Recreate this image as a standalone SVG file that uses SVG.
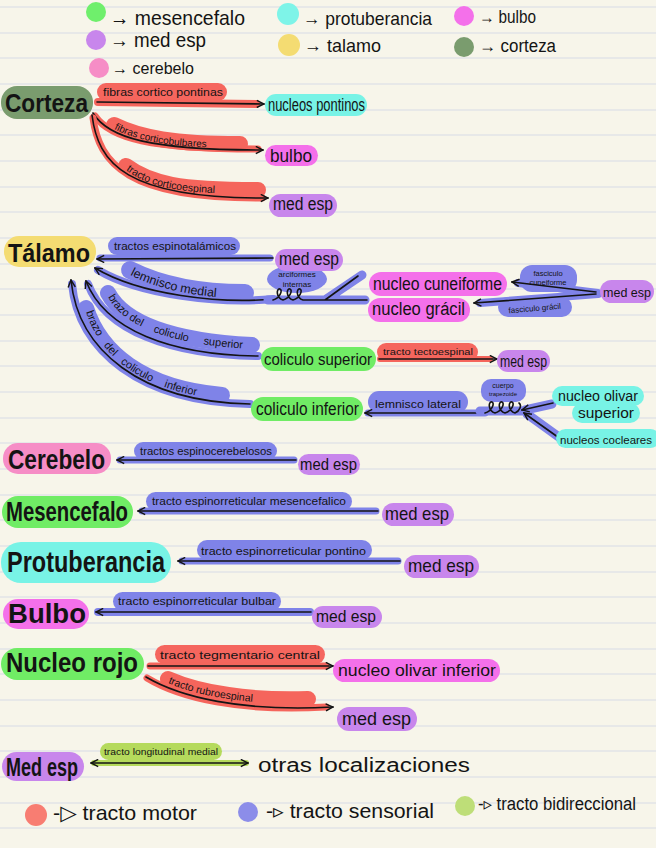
<svg xmlns="http://www.w3.org/2000/svg" width="656" height="848" viewBox="0 0 656 848">
<style>
.hand{font-family:"Liberation Sans","DejaVu Sans",sans-serif;fill:#141414}
.nt{font-weight:bold}
.lb{font-size:10px}
.bb{stroke:#7f83e8;fill:none;stroke-linecap:round;stroke-linejoin:round}
.rb{stroke:#f5655c;fill:none;stroke-linecap:round;stroke-linejoin:round}
.gb{stroke:#b5da5c;fill:none;stroke-linecap:round}
.ar{stroke:#141414;stroke-width:1.6;fill:none;stroke-linecap:round}
.bp{fill:#7f83e8}
.rp{fill:#f5665e}
.gp{fill:#b5da5c}
.cor{fill:#7a9c6e}.tal{fill:#f4dc72}.cer{fill:#f68dc6}.mes{fill:#70ec65}
.pro{fill:#78f3e6}.bul{fill:#f470ea}.med{fill:#c886ec}
</style>
<defs>
<marker id="ah" viewBox="0 0 10 10" refX="9" refY="5" markerWidth="9" markerHeight="9" markerUnits="userSpaceOnUse" orient="auto-start-reverse">
<path d="M1,1 L9,5 L1,9" fill="none" stroke="#141414" stroke-width="1.6"/>
</marker>
<path id="cbT" d="M114,129 C140,142 175,148 240,148"/>
<path id="csT" d="M126,170 C150,188 180,194 258,194"/>
<path id="lmT" d="M130,275 C160,290 200,298 245,298"/>
<path id="bsT" d="M108,297 C124,327 172,345 252,349"/>
<path id="biT" d="M86,312 C100,356 142,392 222,399"/>
<path id="rbT" d="M168,683 C200,697 250,705 308,703"/>
</defs>
<rect width="656" height="848" fill="#f7f5ea"/>
<path stroke="#e2e3e8" stroke-width="1.3" fill="none" d="M0,7H656M0,33H656M0,58H656M0,84H656M0,110H656M0,135H656M0,161H656M0,187H656M0,212H656M0,238H656M0,264H656M0,289H656M0,315H656M0,341H656M0,366H656M0,392H656M0,418H656M0,443H656M0,469H656M0,495H656M0,520H656M0,546H656M0,572H656M0,597H656M0,623H656M0,649H656M0,674H656M0,700H656M0,726H656M0,751H656M0,777H656M0,803H656M0,828H656"/>

<g id="legend">
<circle cx="96" cy="12" r="10" fill="#6fef6c"/>
<text class="hand" x="110" y="25" font-size="21" textLength="135" lengthAdjust="spacingAndGlyphs">→ mesencefalo</text>
<circle cx="96" cy="40" r="10" fill="#c886ec"/>
<text class="hand" x="110" y="47" font-size="20" textLength="96" lengthAdjust="spacingAndGlyphs">→ med esp</text>
<circle cx="99" cy="68" r="10" fill="#f68dc6"/>
<text class="hand" x="112" y="74" font-size="17" textLength="82" lengthAdjust="spacingAndGlyphs">→ cerebelo</text>
<circle cx="288" cy="14" r="11" fill="#7ef4e8"/>
<text class="hand" x="303" y="25" font-size="19" textLength="129" lengthAdjust="spacingAndGlyphs">→ protuberancia</text>
<circle cx="289" cy="45" r="11" fill="#f4dc72"/>
<text class="hand" x="304" y="52" font-size="19" textLength="77" lengthAdjust="spacingAndGlyphs">→ talamo</text>
<circle cx="464" cy="16" r="10" fill="#f470ea"/>
<text class="hand" x="479" y="23" font-size="18" textLength="57" lengthAdjust="spacingAndGlyphs">→ bulbo</text>
<circle cx="464" cy="47" r="10" fill="#7a9c6e"/>
<text class="hand" x="479" y="52" font-size="18" textLength="77" lengthAdjust="spacingAndGlyphs">→ corteza</text>
</g>

<g id="connectors">
<rect class="rp" x="97" y="83" width="130" height="18" rx="9"/>
<path class="rb" stroke-width="8" d="M98,102 L256,104"/>
<path class="ar" marker-end="url(#ah)" d="M97,102 L264,104"/>
<text class="hand lb" x="103" y="96" textLength="120" lengthAdjust="spacingAndGlyphs">fibras cortico pontinas</text>

<path class="rb" stroke-width="7" d="M95,116 C110,138 150,149 258,149"/>
<use href="#cbT" class="rb" stroke-width="16" transform="translate(0,-4)"/>
<path class="ar" marker-end="url(#ah)" d="M93,113 C108,138 150,150 263,150"/>
<text class="hand lb"><textPath href="#cbT">fibras corticobulbares</textPath></text>

<path class="rb" stroke-width="7" d="M93,118 C99,163 127,199 262,198"/>
<use href="#csT" class="rb" stroke-width="16" transform="translate(0,-4)"/>
<path class="ar" marker-end="url(#ah)" d="M92,115 C98,163 125,199 268,198"/>
<text class="hand" font-size="10.5"><textPath href="#csT">tracto corticoespinal</textPath></text>

<rect class="bp" x="108" y="237" width="132" height="18" rx="9"/>
<path class="bb" stroke-width="7" d="M100,258 L270,258"/>
<path class="ar" marker-end="url(#ah)" d="M273,258 L97,259"/>
<text class="hand lb" x="114" y="250" textLength="122" lengthAdjust="spacingAndGlyphs">tractos espinotalámicos</text>

<path class="bb" stroke-width="8" d="M273,299 C220,304 140,295 98,270"/>
<use href="#lmT" class="bb" stroke-width="18" transform="translate(0,-5)"/>
<path class="ar" marker-end="url(#ah)" d="M273,299 C220,304 140,295 95,268"/>
<text class="hand" font-size="12.5"><textPath href="#lmT">lemnisco medial</textPath></text>

<ellipse class="bp" cx="297" cy="279" rx="30" ry="14"/>
<text class="hand" x="297" y="277" font-size="8" text-anchor="middle">arciformes</text>
<text class="hand" x="297" y="287" font-size="8" text-anchor="middle">internas</text>
<path class="bb" stroke-width="9" d="M268,300 L365,300 M325,300 L362,275"/>
<path class="ar" d="M273,300 C280,298 283,290 280,289 C276,288 276,298 283,300 C290,298 293,290 290,289 C286,288 286,298 293,300 C300,298 303,290 300,289 C296,288 296,298 303,300 L367,300 M325,300 L358,276"/>

<path class="bb" stroke-width="8" d="M598,293 L518,283 M598,294 L480,303"/>
<rect class="bp" x="520" y="265" width="57" height="27" rx="12"/>
<rect class="bp" x="498" y="297" width="74" height="20" rx="10"/>
<path class="ar" marker-end="url(#ah)" d="M596,292 L512,282"/>
<path class="ar" marker-end="url(#ah)" d="M596,294 L474,303"/>
<text class="hand" x="548" y="276" font-size="7.5" text-anchor="middle">fasciculo</text>
<text class="hand" x="548" y="285" font-size="7.5" text-anchor="middle">cuneiforme</text>
<text class="hand" x="535" y="311" font-size="8" text-anchor="middle" transform="rotate(-5 535 311)">fasciculo grácil</text>

<path class="bb" stroke-width="8" d="M258,356 C170,355 105,330 88,284"/>
<use href="#bsT" class="bb" stroke-width="16" transform="translate(0,-4)"/>
<path class="ar" marker-end="url(#ah)" d="M258,356 C170,355 105,330 86,281"/>
<text class="hand" font-size="11"><textPath href="#bsT">brazo del</textPath></text>
<text class="hand" font-size="11"><textPath href="#bsT" startOffset="58">coliculo</textPath></text>
<text class="hand" font-size="11"><textPath href="#bsT" startOffset="110">superior</textPath></text>

<path class="bb" stroke-width="8" d="M250,404 C140,402 78,350 72,284"/>
<use href="#biT" class="bb" stroke-width="16" transform="translate(0,-4)"/>
<path class="ar" marker-end="url(#ah)" d="M250,404 C140,402 78,350 71,280"/>
<text class="hand" font-size="11"><textPath href="#biT">brazo</textPath></text>
<text class="hand" font-size="11"><textPath href="#biT" startOffset="38">del</textPath></text>
<text class="hand" font-size="11"><textPath href="#biT" startOffset="62">coliculo</textPath></text>
<text class="hand" font-size="11"><textPath href="#biT" startOffset="112">inferior</textPath></text>

<rect class="rp" x="377" y="343" width="101" height="18" rx="9"/>
<path class="rb" stroke-width="6" d="M380,359 L490,359"/>
<path class="ar" marker-end="url(#ah)" d="M379,359 L497,359"/>
<text class="hand" x="383" y="355" font-size="9.5" textLength="90" lengthAdjust="spacingAndGlyphs">tracto tectoespinal</text>

<rect class="bp" x="368" y="391" width="100" height="22" rx="11"/>
<path class="bb" stroke-width="7" d="M368,413 L485,413"/>
<path class="ar" marker-end="url(#ah)" d="M485,413 L365,413"/>
<text class="hand" x="375" y="408" font-size="10" textLength="86" lengthAdjust="spacingAndGlyphs">lemnisco lateral</text>
<rect class="bp" x="481" y="379" width="45" height="23" rx="10"/>
<text class="hand" x="503" y="388" font-size="7" text-anchor="middle">cuerpo</text>
<text class="hand" x="503" y="396" font-size="6" text-anchor="middle">trapezoide</text>
<path class="bb" stroke-width="9" d="M480,411 L525,411 M552,404 L525,410 M563,440 L527,414"/>
<path class="ar" d="M485,413 C492,411 495,403 492,402 C488,401 488,411 495,413 C502,411 505,403 502,402 C498,401 498,411 505,413 C512,411 515,403 512,402 C508,401 508,411 515,413 C520,411 522,405 519,403"/>
<path class="ar" marker-end="url(#ah)" d="M553,403 L522,410"/>
<path class="ar" marker-end="url(#ah)" d="M562,440 L524,413"/>

<rect class="bp" x="134" y="442" width="143" height="18" rx="9"/>
<path class="bb" stroke-width="7" d="M120,460 L294,460"/>
<path class="ar" marker-end="url(#ah)" d="M296,460 L117,460"/>
<text class="hand lb" x="140" y="455" textLength="132" lengthAdjust="spacingAndGlyphs">tractos espinocerebelosos</text>

<rect class="bp" x="146" y="492" width="206" height="19" rx="9.5"/>
<path class="bb" stroke-width="7" d="M142,511 L376,511"/>
<path class="ar" marker-end="url(#ah)" d="M378,511 L138,511"/>
<text class="hand lb" x="152" y="505" textLength="194" lengthAdjust="spacingAndGlyphs">tracto espinorreticular mesencefalico</text>

<rect class="bp" x="197" y="540" width="175" height="20" rx="10"/>
<path class="bb" stroke-width="7" d="M182,561 L398,561"/>
<path class="ar" marker-end="url(#ah)" d="M400,561 L178,561"/>
<text class="hand lb" x="201" y="555" textLength="165" lengthAdjust="spacingAndGlyphs">tracto espinorreticular pontino</text>

<rect class="bp" x="113" y="592" width="168" height="19" rx="9.5"/>
<path class="bb" stroke-width="8" d="M98,612 L310,612"/>
<path class="ar" marker-end="url(#ah)" d="M311,612 L96,612"/>
<text class="hand lb" x="118" y="605" textLength="158" lengthAdjust="spacingAndGlyphs">tracto espinorreticular bulbar</text>

<rect class="rp" x="155" y="645" width="170" height="19" rx="9.5"/>
<path class="rb" stroke-width="7" d="M150,666 L326,666"/>
<path class="ar" marker-end="url(#ah)" d="M148,666 L333,666"/>
<text class="hand" x="160" y="659" font-size="11" textLength="160" lengthAdjust="spacingAndGlyphs">tracto tegmentario central</text>

<path class="rb" stroke-width="7" d="M147,678 C180,698 240,712 326,707"/>
<use href="#rbT" class="rb" stroke-width="16" transform="translate(0,-4)"/>
<path class="ar" marker-end="url(#ah)" d="M146,677 C180,697 240,712 333,707"/>
<text class="hand" font-size="10.5"><textPath href="#rbT">tracto rubroespinal</textPath></text>

<rect class="gp" x="100" y="743" width="122" height="17" rx="8.5"/>
<path class="gb" stroke-width="6" d="M94,763 L246,763"/>
<path class="ar" marker-start="url(#ah)" marker-end="url(#ah)" d="M91,763 L248,763"/>
<text class="hand" x="104" y="755" font-size="9.5" textLength="114" lengthAdjust="spacingAndGlyphs">tracto longitudinal medial</text>
</g>

<g id="corteza"><rect class="cor" x="1" y="86" width="92" height="33" rx="16"/><text class="hand nt" x="5" y="112" font-size="26" textLength="83" lengthAdjust="spacingAndGlyphs">Corteza</text></g>
<g id="nucleos-pontinos"><rect class="pro" x="265" y="94" width="102" height="22" rx="11"/><text class="hand" x="268" y="111" font-size="18" textLength="97" lengthAdjust="spacingAndGlyphs">nucleos pontinos</text></g>
<g id="bulbo-1"><rect class="bul" x="265" y="145" width="53" height="21" rx="10.5"/><text class="hand" x="270" y="162" font-size="19" textLength="42" lengthAdjust="spacingAndGlyphs">bulbo</text></g>
<g id="medesp-1"><rect class="med" x="269" y="194" width="68" height="23" rx="11.5"/><text class="hand" x="273" y="210" font-size="18" textLength="60" lengthAdjust="spacingAndGlyphs">med esp</text></g>

<g id="talamo"><rect class="tal" x="4" y="236" width="92" height="31" rx="15"/><text class="hand nt" x="8" y="262" font-size="26" textLength="82" lengthAdjust="spacingAndGlyphs">Tálamo</text></g>
<g id="medesp-2"><rect class="med" x="275" y="249" width="68" height="22" rx="11"/><text class="hand" x="279" y="265" font-size="18" textLength="60" lengthAdjust="spacingAndGlyphs">med esp</text></g>
<g id="nucleo-cuneiforme"><rect class="bul" x="369" y="272" width="138" height="24" rx="12"/><text class="hand" x="373" y="290" font-size="18" textLength="129" lengthAdjust="spacingAndGlyphs">nucleo cuneiforme</text></g>
<g id="nucleo-gracil"><rect class="bul" x="368" y="298" width="102" height="24" rx="12"/><text class="hand" x="372" y="315" font-size="18" textLength="93" lengthAdjust="spacingAndGlyphs">nucleo grácil</text></g>
<g id="medesp-3"><rect class="med" x="600" y="280" width="54" height="23" rx="11.5"/><text class="hand" x="603" y="297" font-size="13.5" textLength="48" lengthAdjust="spacingAndGlyphs">med esp</text></g>
<g id="coliculo-superior"><rect class="mes" x="261" y="347" width="115" height="24" rx="12"/><text class="hand" x="264" y="365" font-size="16" textLength="108" lengthAdjust="spacingAndGlyphs">coliculo superior</text></g>
<g id="medesp-4"><rect class="med" x="497" y="350" width="53" height="22" rx="11"/><text class="hand" x="500" y="367" font-size="16" textLength="47" lengthAdjust="spacingAndGlyphs">med esp</text></g>
<g id="coliculo-inferior"><rect class="mes" x="251" y="397" width="112" height="24" rx="12"/><text class="hand" x="256" y="415" font-size="18" textLength="103" lengthAdjust="spacingAndGlyphs">coliculo inferior</text></g>
<g id="nucleo-olivar-superior"><rect class="pro" x="552" y="386" width="92" height="20" rx="10"/><rect class="pro" x="572" y="403" width="68" height="20" rx="10"/><text class="hand" x="598" y="401" font-size="14" text-anchor="middle" textLength="80" lengthAdjust="spacingAndGlyphs">nucleo olivar</text><text class="hand" x="606" y="418" font-size="14" text-anchor="middle" textLength="56" lengthAdjust="spacingAndGlyphs">superior</text></g>
<g id="nucleos-cocleares"><rect class="pro" x="556" y="429" width="104" height="19" rx="9.5"/><text class="hand" x="560" y="444" font-size="11.5" textLength="92" lengthAdjust="spacingAndGlyphs">nucleos cocleares</text></g>

<g id="cerebelo"><rect class="cer" x="3" y="443" width="108" height="31" rx="15"/><text class="hand nt" x="8" y="469" font-size="28" textLength="97" lengthAdjust="spacingAndGlyphs">Cerebelo</text></g>
<g id="medesp-5"><rect class="med" x="298" y="454" width="62" height="21" rx="10.5"/><text class="hand" x="300" y="470" font-size="17" textLength="57" lengthAdjust="spacingAndGlyphs">med esp</text></g>
<g id="mesencefalo"><rect class="mes" x="2" y="496" width="131" height="32" rx="16"/><text class="hand nt" x="6" y="521" font-size="27" textLength="122" lengthAdjust="spacingAndGlyphs">Mesencefalo</text></g>
<g id="medesp-6"><rect class="med" x="382" y="503" width="72" height="23" rx="11.5"/><text class="hand" x="385" y="520" font-size="19" textLength="64" lengthAdjust="spacingAndGlyphs">med esp</text></g>
<g id="protuberancia"><rect class="pro" x="1" y="542" width="170" height="41" rx="20"/><text class="hand nt" x="7" y="572" font-size="30" textLength="158" lengthAdjust="spacingAndGlyphs">Protuberancia</text></g>
<g id="medesp-7"><rect class="med" x="404" y="555" width="75" height="23" rx="11.5"/><text class="hand" x="408" y="572" font-size="19" textLength="66" lengthAdjust="spacingAndGlyphs">med esp</text></g>
<g id="bulbo"><rect class="bul" x="3" y="599" width="86" height="30" rx="15"/><text class="hand nt" x="8" y="623" font-size="28" textLength="78" lengthAdjust="spacingAndGlyphs">Bulbo</text></g>
<g id="medesp-8"><rect class="med" x="312" y="606" width="70" height="22" rx="11"/><text class="hand" x="316" y="622" font-size="17" textLength="60" lengthAdjust="spacingAndGlyphs">med esp</text></g>
<g id="nucleo-rojo"><rect class="mes" x="1" y="648" width="143" height="32" rx="16"/><text class="hand nt" x="6" y="672" font-size="27" textLength="132" lengthAdjust="spacingAndGlyphs">Nucleo rojo</text></g>
<g id="nucleo-olivar-inferior"><rect class="bul" x="333" y="659" width="167" height="23" rx="11.5"/><text class="hand" x="338" y="676" font-size="17" textLength="158" lengthAdjust="spacingAndGlyphs">nucleo olivar inferior</text></g>
<g id="medesp-9"><rect class="med" x="337" y="707" width="80" height="24" rx="12"/><text class="hand" x="342" y="725" font-size="19" textLength="69" lengthAdjust="spacingAndGlyphs">med esp</text></g>
<g id="med-esp"><rect class="med" x="2" y="752" width="82" height="29" rx="14.5"/><text class="hand nt" x="6" y="776" font-size="26" textLength="72" lengthAdjust="spacingAndGlyphs">Med esp</text></g>
<g id="otras-localizaciones"><text class="hand" x="258" y="772" font-size="20" textLength="212" lengthAdjust="spacingAndGlyphs">otras localizaciones</text></g>

<g id="legend-tracts">
<circle cx="36" cy="815" r="11" fill="#f87d72"/>
<text class="hand" x="53" y="820" font-size="21" textLength="144" lengthAdjust="spacingAndGlyphs">-▷ tracto motor</text>
<circle cx="248" cy="812" r="10" fill="#8c8de9"/>
<text class="hand" x="266" y="818" font-size="20" textLength="168" lengthAdjust="spacingAndGlyphs">-▹ tracto sensorial</text>
<circle cx="465" cy="806" r="10" fill="#bede78"/>
<text class="hand" x="478" y="810" font-size="18" textLength="158" lengthAdjust="spacingAndGlyphs">-▹ tracto bidireccional</text>
</g>
</svg>
